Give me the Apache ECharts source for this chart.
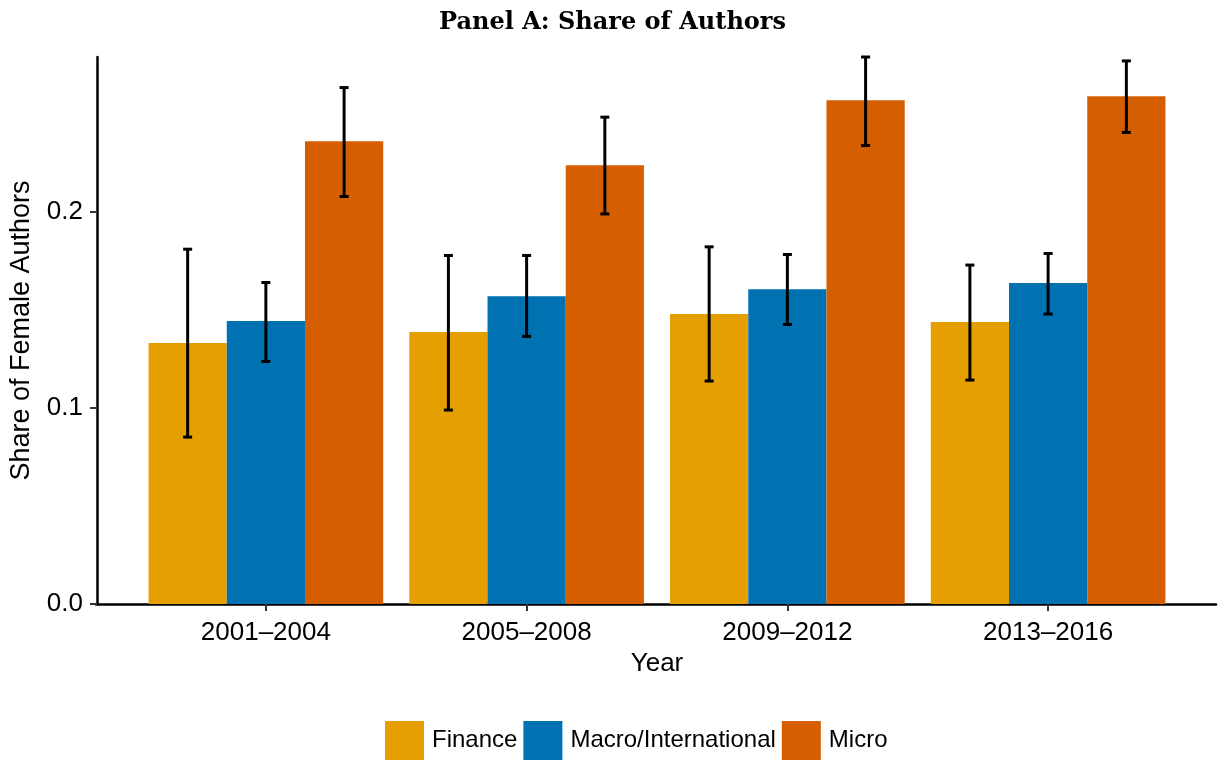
<!DOCTYPE html>
<html lang="en">
<head>
    <meta charset="UTF-8">
    <title>Panel A: Share of Authors</title>
    <script src="https://cdn.jsdelivr.net/npm/echarts@6/dist/echarts.min.js"></script>
    <style>
        html, body { margin: 0; padding: 0; background: #fff; }
        #main { width: 1225px; height: 763px; }
    </style>
</head>
<body>
<div id="main"></div>
<script>
    // data
    var years = ['2001–2004', '2005–2008', '2009–2012', '2013–2016'];
    var fields = ['Finance', 'Macro/International', 'Micro'];
    var colors = ['#E69F00', '#0072B2', '#D55E00'];

    var finance   = [0.1332, 0.1388, 0.1480, 0.1439];
    var financeLo = [0.0852, 0.0990, 0.1138, 0.1143];
    var financeHi = [0.1811, 0.1779, 0.1823, 0.1730];

    var macro   = [0.1444, 0.1571, 0.1607, 0.1638];
    var macroLo = [0.1238, 0.1366, 0.1427, 0.1480];
    var macroHi = [0.1641, 0.1779, 0.1784, 0.1789];

    var micro   = [0.2362, 0.2240, 0.2571, 0.2592];
    var microLo = [0.2080, 0.1991, 0.2340, 0.2407];
    var microHi = [0.2636, 0.2485, 0.2792, 0.2772];

    var yTicks = [0, 0.1, 0.2];

    var axisFont = 'Liberation Sans, Arial, sans-serif';

    // error bars drawn on top of the dodged bars (k = position in the group)
    function errorSeries(lo, hi, k) {
        return {
            type: 'custom',
            xAxisIndex: 0,
            yAxisIndex: 0,
            silent: true,
            z: 10,
            data: lo.map(function (l, i) { return [i, l, hi[i]]; }),
            renderItem: function (params, api) {
                var band = api.size([1, 0])[0];
                var w = band * 0.9 / 3;
                var x = api.coord([api.value(0), 0])[0] + (k - 1) * w;
                var top = api.coord([api.value(0), api.value(2)])[1];
                var bot = api.coord([api.value(0), api.value(1)])[1];
                var cap = 4.5;
                var st = { stroke: '#000', lineWidth: 3 };
                return {
                    type: 'group',
                    children: [
                        { type: 'line', shape: { x1: x, y1: top, x2: x, y2: bot }, style: st },
                        { type: 'line', shape: { x1: x - cap, y1: top, x2: x + cap, y2: top }, style: st },
                        { type: 'line', shape: { x1: x - cap, y1: bot, x2: x + cap, y2: bot }, style: st }
                    ]
                };
            }
        };
    }

    function barSeries(name, values, color) {
        return {
            name: name,
            type: 'bar',
            xAxisIndex: 0,
            yAxisIndex: 0,
            data: values,
            barGap: '0%',
            barCategoryGap: '10%',
            itemStyle: { color: color },
            emphasis: { disabled: true }
        };
    }

    var myChart = echarts.init(document.getElementById('main'), null, { renderer: 'canvas' });

    var option = {
        animation: false,
        backgroundColor: '#fff',
        title: {
            text: 'Panel A: Share of Authors',
            left: 'center',
            top: 6,
            textStyle: {
                fontFamily: 'DejaVu Serif, serif',
                fontWeight: 'bold',
                fontSize: 24,
                color: '#000'
            }
        },
        legend: {
            data: fields,
            left: 380,
            top: 716,
            icon: 'rect',
            itemWidth: 39,
            itemHeight: 39,
            itemGap: 6,
            textStyle: { fontFamily: axisFont, fontSize: 24, color: '#000', padding: [0, 0, 0, 3] }
        },
        grid: [
            // bars: category bands 261px wide, centred like ggplot's dodge
            { left: 134.5, right: 46.5, top: 57, bottom: 159 },
            // full-width grid only for the x axis line
            { left: 96, right: 9, top: 57, bottom: 159 }
        ],
        xAxis: [
            {
                type: 'category',
                gridIndex: 0,
                data: years,
                name: 'Year',
                nameLocation: 'middle',
                nameGap: 47,
                nameTextStyle: { fontFamily: axisFont, fontSize: 26, color: '#000' },
                axisLine: { show: false },
                axisTick: { show: true, alignWithLabel: true, length: 7, lineStyle: { color: '#333', width: 2 } },
                axisLabel: { fontFamily: axisFont, fontSize: 26, color: '#000', margin: 16 },
                splitLine: { show: false }
            },
            {
                type: 'value',
                gridIndex: 1,
                min: 0,
                max: 1,
                axisLine: { show: true, lineStyle: { color: '#000', width: 2.5 } },
                axisTick: { show: false },
                axisLabel: { show: false },
                splitLine: { show: false }
            }
        ],
        yAxis: [
            {
                type: 'value',
                gridIndex: 0,
                min: 0,
                max: 0.2792,
                interval: 0.1,
                offset: 38.5,
                name: 'Share of Female Authors',
                nameLocation: 'middle',
                nameGap: 62,
                nameTextStyle: { fontFamily: axisFont, fontSize: 27, color: '#000' },
                axisLine: { show: true, lineStyle: { color: '#000', width: 2.5 } },
                axisTick: { show: true, length: 7, lineStyle: { color: '#333', width: 2 } },
                axisLabel: {
                    fontFamily: axisFont,
                    fontSize: 26,
                    color: '#000',
                    margin: 14,
                    showMaxLabel: false,
                    formatter: function (v) {
                        return yTicks.some(function (t) { return Math.abs(t - v) < 1e-9; }) ? v.toFixed(1) : '';
                    }
                },
                splitLine: { show: false }
            },
            {
                type: 'value',
                gridIndex: 1,
                show: false
            }
        ],
        series: [
            barSeries(fields[0], finance, colors[0]),
            barSeries(fields[1], macro, colors[1]),
            barSeries(fields[2], micro, colors[2]),
            errorSeries(financeLo, financeHi, 0),
            errorSeries(macroLo, macroHi, 1),
            errorSeries(microLo, microHi, 2)
        ]
    };

    myChart.setOption(option);
</script>
</body>
</html>
